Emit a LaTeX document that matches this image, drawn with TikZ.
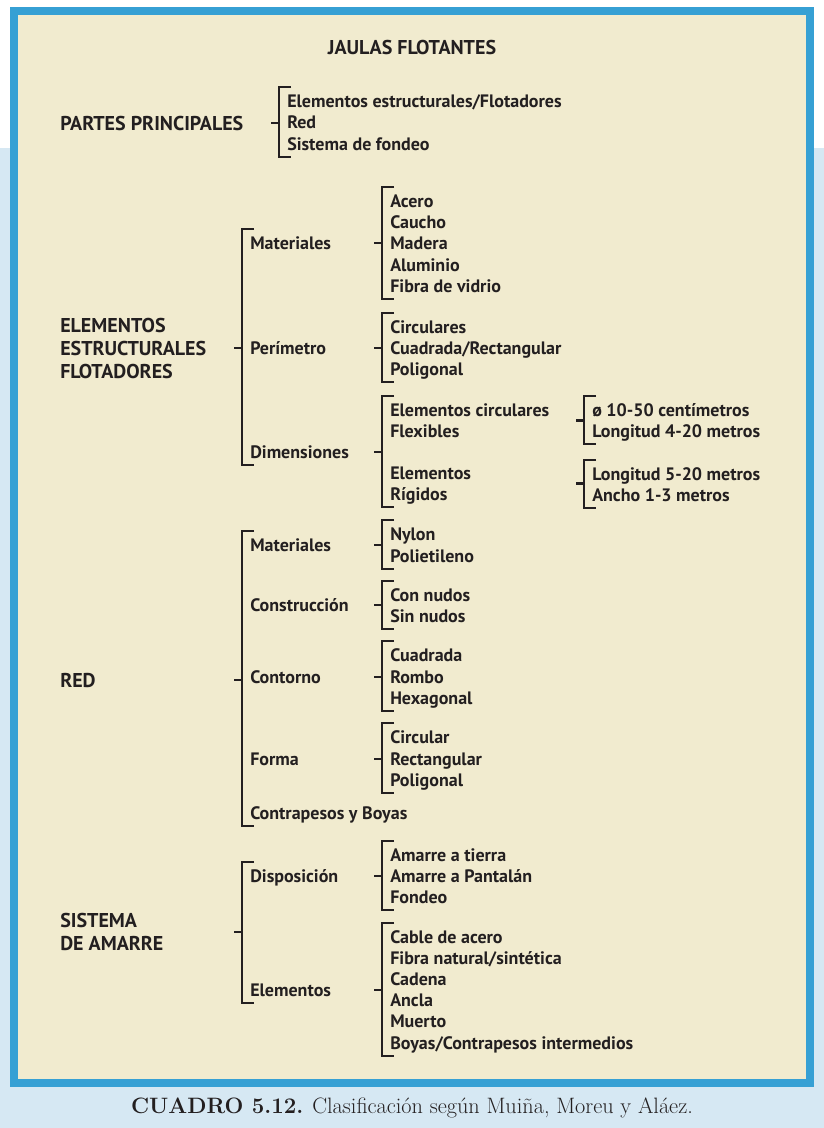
\documentclass[tikz,border=0pt]{standalone}
\usepackage{fontspec}
\usepackage{xcolor}
\usetikzlibrary{calc}

\newfontfamily\frutfont{PT Sans}

\definecolor{marco}{RGB}{54,160,212}
\definecolor{crema}{RGB}{241,235,207}
\definecolor{celeste}{RGB}{214,232,243}
\definecolor{tinta}{RGB}{35,31,32}

\tikzset{
	cabeza/.style={anchor=west, inner sep=0pt, text=tinta, font=\frutfont\bfseries\fontsize{15}{17.25}\selectfont},
	rama/.style={anchor=west, inner sep=0pt, text=tinta, text height=9.4pt, text depth=0pt, font=\frutfont\bfseries\fontsize{13.5}{15}\selectfont},
	llave/.style={draw=tinta, line width=2.2pt},
}

% llave: vertical en el borde izquierdo de los hijos, remate arriba y abajo, y muesca hacia el padre
\newcommand{\llaves}[3]{%
	\coordinate (lv) at ($(#2.west)+(-8,0)$);
	\draw [llave] ($(#2.west)+(4,-14)$) -- ($(#2.west)+(-8,-14)$) -- ($(#3.west)+(-8,13)$) -- ($(#3.west)+(4,13)$) ;
	\draw [llave] (lv |- #1) -- ++(-8,0) ;
}

\begin{document}
\begin{tikzpicture}[x=0.75pt,y=0.75pt,yscale=-1,xscale=1]
	
	%Fondo
	\fill [white] (0,0) rectangle (824,1128) ;
	\fill [celeste] (0,148) rectangle (824,1128) ;
	%Shape: Rectangle (marco)
	\filldraw [fill=crema, draw=marco, line width=6pt] (14,11) rectangle (810,1083) ;
	
	% Titulo
	\draw (412,47) node [cabeza, anchor=center, text height=10.5pt, text depth=0pt] (jaulas) {JAULAS FLOTANTES};
	
	% Partes principales
	\draw (60,123) node [cabeza, text height=10.5pt, text depth=0pt] (pp) {PARTES PRINCIPALES};
	\draw (287,101) node [rama] (pp1) {Elementos estructurales/Flotadores};
	\draw (287,122) node [rama] (pp2) {Red};
	\draw (287,144) node [rama] (pp3) {Sistema de fondeo};
	
	% Elementos estructurales
	\draw (60,348) node [cabeza, align=left] (eef) {ELEMENTOS\\ESTRUCTURALES\\FLOTADORES};
	\draw (250,243) node [rama] (eefmat) {Materiales};
	\draw (250,348) node [rama] (eefper) {Perímetro};
	\draw (250,452) node [rama] (eefdim) {Dimensiones};
	\draw (390,201) node [rama] (acero) {Acero};
	\draw (390,222) node [rama] (caucho) {Caucho};
	\draw (390,243) node [rama] (madera) {Madera};
	\draw (390,265) node [rama] (aluminio) {Aluminio};
	\draw (390,286) node [rama] (fibra) {Fibra de vidrio};
	\draw (390,327) node [rama] (circulares) {Circulares};
	\draw (390,348) node [rama] (cuadrada) {Cuadrada/Rectangular};
	\draw (390,369) node [rama] (poligonal) {Poligonal};
	\draw (390,410) node [rama] (ecirc) {Elementos circulares};
	\draw (390,431) node [rama] (flex) {Flexibles};
	\draw (390,473) node [rama] (erig) {Elementos};
	\draw (390,494) node [rama] (rigid) {Rígidos};
	\coordinate (flexmid) at ($(ecirc.west)!0.5!(flex.west)$);
	\coordinate (rigmid) at ($(erig.west)!0.5!(rigid.west)$);
	\draw (592,410) node [rama] (diam) {ø 10-50 centímetros};
	\draw (592,431) node [rama] (long1) {Longitud 4-20 metros};
	\draw (592,474) node [rama] (long2) {Longitud 5-20 metros};
	\draw (592,495) node [rama] (ancho) {Ancho 1-3 metros};
	
	% Red
	\draw (60,680) node [cabeza, text height=10.5pt, text depth=0pt] (red) {RED};
	\draw (250,545) node [rama] (redmat) {Materiales};
	\draw (250,605) node [rama] (redcons) {Construcción};
	\draw (250,677) node [rama] (redcont) {Contorno};
	\draw (250,759) node [rama] (redforma) {Forma};
	\draw (250,813) node [rama] (redcontra) {Contrapesos y Boyas};
	\draw (390,534) node [rama] (nylon) {Nylon};
	\draw (390,556) node [rama] (polie) {Polietileno};
	\draw (390,595) node [rama] (connud) {Con nudos};
	\draw (390,616) node [rama] (sinnud) {Sin nudos};
	\draw (390,655) node [rama] (cuad) {Cuadrada};
	\draw (390,677) node [rama] (rombo) {Rombo};
	\draw (390,698) node [rama] (hexa) {Hexagonal};
	\draw (390,737) node [rama] (circ) {Circular};
	\draw (390,759) node [rama] (rect) {Rectangular};
	\draw (390,780) node [rama] (polig) {Poligonal};
	
	% Sistema de amarre
	\draw (60,932) node [cabeza, align=left] (sda) {SISTEMA\\DE AMARRE};
	\draw (250,876) node [rama] (disp) {Disposición};
	\draw (250,990) node [rama] (elem) {Elementos};
	\draw (390,855) node [rama] (tierra) {Amarre a tierra};
	\draw (390,876) node [rama] (pantalan) {Amarre a Pantalán};
	\draw (390,897) node [rama] (fondeo) {Fondeo};
	\draw (390,937) node [rama] (cable) {Cable de acero};
	\draw (390,958) node [rama] (fibrans) {Fibra natural/sintética};
	\draw (390,979) node [rama] (cadena) {Cadena};
	\draw (390,1000) node [rama] (ancla) {Ancla};
	\draw (390,1021) node [rama] (muerto) {Muerto};
	\draw (390,1043) node [rama] (boyas) {Boyas/Contrapesos intermedios};
	
	% Llaves
	\llaves{pp}{pp1}{pp3}
	\llaves{eef}{eefmat}{eefdim}
	\llaves{eefmat}{acero}{fibra}
	\llaves{eefper}{circulares}{poligonal}
	\llaves{eefdim}{ecirc}{rigid}
	\llaves{flexmid}{diam}{long1}
	\llaves{rigmid}{long2}{ancho}
	\llaves{red}{redmat}{redcontra}
	\llaves{redmat}{nylon}{polie}
	\llaves{redcons}{connud}{sinnud}
	\llaves{redcont}{cuad}{hexa}
	\llaves{redforma}{circ}{polig}
	\llaves{sda}{disp}{elem}
	\llaves{disp}{tierra}{fondeo}
	\llaves{elem}{cable}{boyas}
	
	% Pie
	\draw (412,1108) node [inner sep=0pt, text=tinta, font=\fontsize{16.7}{20}\selectfont] (pie) {\textbf{CUADRO 5.12.} Clasificación según Muiña, Moreu y Aláez.};
	
\end{tikzpicture}
\end{document}
